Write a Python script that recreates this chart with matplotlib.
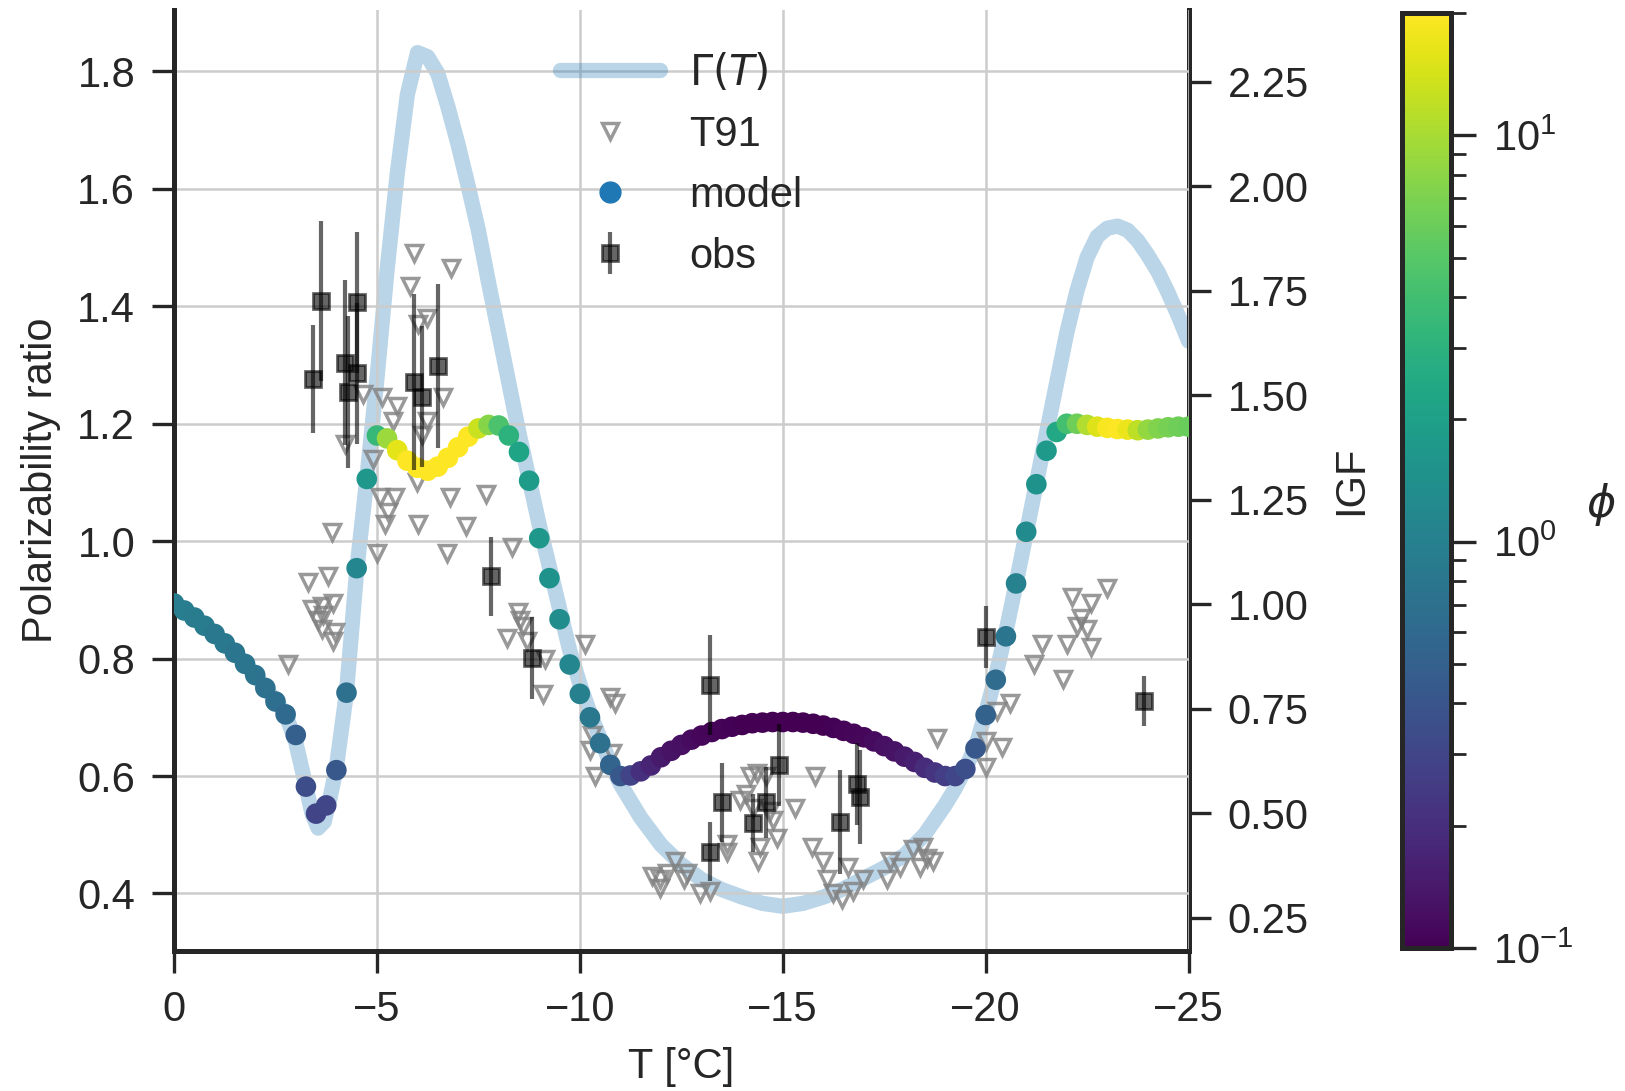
import numpy as np
import matplotlib
matplotlib.use("Agg")
import matplotlib.pyplot as plt
from matplotlib.colors import LogNorm
from matplotlib.lines import Line2D

# --- Gamma(T) curve (right axis, IGF) ---
GAMMA_T = [0.0, -0.5, -1.0, -1.5, -2.0, -2.5, -2.75, -3.0, -3.25, -3.4, -3.55, -3.7,
           -3.85, -4.0, -4.25, -4.5, -4.75, -5.0, -5.25, -5.5, -5.75, -6.0, -6.25, -6.5,
           -6.75, -7.0, -7.25, -7.5, -7.75, -8.0, -8.25, -8.5, -8.75, -9.0, -9.25, -9.5,
           -9.75, -10.0, -10.25, -10.5, -10.75, -11.0, -11.5, -12.0, -12.5, -13.0, -13.5,
           -14.0, -14.5, -15.0, -15.5, -16.0, -16.5, -17.0, -17.5, -18.0, -18.5, -19.0,
           -19.25, -19.5, -19.75, -20.0, -20.25, -20.5, -20.75, -21.0, -21.25, -21.5,
           -21.75, -22.0, -22.25, -22.5, -22.75, -23.0, -23.25, -23.5, -23.75, -24.0,
           -24.25, -24.5, -24.75, -25.0]
GAMMA_IGF = [1.003, 0.969, 0.930, 0.885, 0.832, 0.769, 0.738, 0.670, 0.565, 0.500, 0.465, 0.480,
             0.540, 0.610, 0.790, 1.080, 1.300, 1.540, 1.800, 2.030, 2.220, 2.320, 2.310, 2.270,
             2.190, 2.100, 2.000, 1.895, 1.770, 1.650, 1.530, 1.410, 1.300, 1.190, 1.090, 0.990,
             0.890, 0.810, 0.740, 0.680, 0.620, 0.570, 0.490, 0.425, 0.378, 0.342, 0.318,
             0.300, 0.285, 0.278, 0.285, 0.300, 0.320, 0.345, 0.370, 0.400, 0.450, 0.520,
             0.560, 0.607, 0.660, 0.740, 0.830, 0.935, 1.050, 1.170, 1.290, 1.410,
             1.530, 1.650, 1.750, 1.830, 1.880, 1.900, 1.905, 1.895, 1.870, 1.835,
             1.795, 1.745, 1.690, 1.630]

# --- model (left axis), coloured by phi ---
MODEL_T = [0.0, -0.25, -0.5, -0.75, -1.0, -1.25, -1.5, -1.75, -2.0, -2.25,
           -2.5, -2.75, -3.0, -3.25, -3.5, -3.75, -4.0, -4.25, -4.5, -4.75,
           -5.0, -5.25, -5.5, -5.75, -6.0, -6.25, -6.5, -6.75, -7.0, -7.25,
           -7.5, -7.75, -8.0, -8.25, -8.5, -8.75, -9.0, -9.25, -9.5, -9.75,
           -10.0, -10.25, -10.5, -10.75, -11.0, -11.25, -11.5, -11.75, -12.0, -12.25,
           -12.5, -12.75, -13.0, -13.25, -13.5, -13.75, -14.0, -14.25, -14.5, -14.75,
           -15.0, -15.25, -15.5, -15.75, -16.0, -16.25, -16.5, -16.75, -17.0, -17.25,
           -17.5, -17.75, -18.0, -18.25, -18.5, -18.75, -19.0, -19.25, -19.5, -19.75,
           -20.0, -20.25, -20.5, -20.75, -21.0, -21.25, -21.5, -21.75, -22.0, -22.25,
           -22.5, -22.75, -23.0, -23.25, -23.5, -23.75, -24.0, -24.25, -24.5, -24.75,
           -25.0]
MODEL_RATIO = [0.894, 0.882, 0.870, 0.856, 0.842, 0.826, 0.810, 0.791, 0.772, 0.750,
               0.727, 0.705, 0.670, 0.582, 0.536, 0.550, 0.610, 0.742, 0.954, 1.106,
               1.180, 1.175, 1.155, 1.137, 1.125, 1.120, 1.127, 1.142, 1.160, 1.178,
               1.192, 1.198, 1.197, 1.180, 1.152, 1.103, 1.005, 0.937, 0.867, 0.790,
               0.740, 0.700, 0.656, 0.619, 0.600, 0.601, 0.608, 0.618, 0.632, 0.643,
               0.653, 0.662, 0.669, 0.675, 0.680, 0.684, 0.687, 0.690, 0.691, 0.692,
               0.692, 0.692, 0.691, 0.689, 0.686, 0.682, 0.677, 0.672, 0.666, 0.659,
               0.651, 0.642, 0.633, 0.624, 0.614, 0.606, 0.600, 0.600, 0.612, 0.647,
               0.704, 0.764, 0.838, 0.928, 1.016, 1.097, 1.154, 1.186, 1.200, 1.200,
               1.198, 1.195, 1.193, 1.191, 1.190, 1.189, 1.190, 1.192, 1.194, 1.195,
               1.195]
MODEL_PHI = [0.93, 0.93, 0.88, 0.88, 0.83, 0.83, 0.79, 0.79, 0.75, 0.71,
             0.67, 0.61, 0.49, 0.34, 0.29, 0.30, 0.42, 0.71, 1.14, 1.66,
             3.5, 9.0, 16.0, 20.0, 20.0, 20.0, 20.0, 20.0, 20.0, 20.0,
             13.0, 7.7, 4.5, 3.0, 2.2, 1.84, 1.66, 1.5, 1.35, 1.14,
             0.98, 0.83, 0.71, 0.55, 0.42, 0.29, 0.21, 0.17, 0.145, 0.13,
             0.124, 0.117, 0.11, 0.107, 0.105, 0.103, 0.102, 0.101, 0.1, 0.1,
             0.1, 0.1, 0.1, 0.101, 0.102, 0.103, 0.105, 0.107, 0.11, 0.117,
             0.124, 0.13, 0.145, 0.16, 0.19, 0.22, 0.26, 0.30, 0.36, 0.42,
             0.52, 0.64, 0.79, 1.03, 1.27, 1.5, 1.75, 2.4, 4.1, 6.2,
             10.6, 15.0, 19.0, 20.0, 17.0, 11.8, 8.5, 7.3, 6.6, 6.2,
             5.9]

# --- T91 (left axis) ---
T91_T = [-5.91, -6.82, -5.81, -6.23, -6.0, -4.66, -5.12, -5.49, -5.39, -6.63,
         -6.23, -6.1, -4.21, -4.9, -5.98, -5.08, -5.44, -6.8, -7.7, -5.27,
         -5.2, -6.0, -7.2, -3.89, -4.99, -6.72, -8.33,
         -3.3, -3.79, -3.4, -3.64, -3.92, -3.55, -3.68, -3.64, -3.96, -3.92, -2.8,
         -8.47, -8.53, -8.2, -8.6, -8.69, -9.14, -9.1, -10.13, -10.74, -10.87,
         -10.3, -10.24, -10.37, -10.79,
         -11.78, -11.98, -12.15, -12.35, -12.64, -12.56, -11.98, -12.96, -13.2, -13.63,
         -13.63, -14.19, -14.36, -14.6, -14.1, -14.27, -13.95, -14.68, -14.77, -14.85,
         -14.43, -14.39, -15.3, -15.79, -18.8, -15.71, -16.0, -16.09, -16.24, -16.46,
         -16.6, -16.73, -16.98, -17.57, -17.64, -17.89, -18.2, -18.46, -18.38, -18.7,
         -18.55,
         -23.0, -22.13, -22.6, -22.25, -22.5, -22.0, -22.6, -21.4, -21.2, -21.9,
         -20.6, -20.28, -20.4, -20.0, -20.0, -22.35]
T91_RATIO = [1.49, 1.465, 1.435, 1.38, 1.37, 1.25, 1.245, 1.23, 1.205, 1.245,
             1.205, 1.18, 1.165, 1.14, 1.10, 1.075, 1.075, 1.075, 1.08, 1.05,
             1.03, 1.03, 1.025, 1.015, 0.98, 0.98, 0.99,
             0.93, 0.94, 0.885, 0.89, 0.895, 0.865, 0.875, 0.85, 0.845, 0.83, 0.79,
             0.88, 0.865, 0.835, 0.855, 0.83, 0.80, 0.74, 0.825, 0.735, 0.725,
             0.67, 0.645, 0.60, 0.64,
             0.43, 0.425, 0.435, 0.455, 0.435, 0.425, 0.41, 0.40, 0.405, 0.485,
             0.47, 0.60, 0.605, 0.60, 0.57, 0.545, 0.56, 0.54, 0.525, 0.495,
             0.48, 0.455, 0.545, 0.60, 0.665, 0.48, 0.455, 0.425, 0.40, 0.39,
             0.445, 0.405, 0.425, 0.425, 0.455, 0.445, 0.475, 0.48, 0.445, 0.455,
             0.46,
             0.92, 0.905, 0.895, 0.855, 0.85, 0.825, 0.82, 0.825, 0.79, 0.765,
             0.725, 0.71, 0.65, 0.66, 0.615, 0.87]

# --- observations with error bars (left axis) ---
OBS_T = [-3.42, -3.63, -4.21, -4.29, -4.50, -4.51, -5.91, -6.10, -6.50, -7.81,
         -8.82, -13.2, -13.5, -13.2, -14.27, -14.6, -14.9, -16.4, -16.83, -16.9,
         -20.0, -23.9]
OBS_RATIO = [1.277, 1.409, 1.304, 1.254, 1.286, 1.407, 1.271, 1.246, 1.298, 0.940,
             0.801, 0.755, 0.555, 0.471, 0.520, 0.555, 0.619, 0.522, 0.587, 0.564,
             0.837, 0.728]
OBS_ERR = [0.092, 0.136, 0.14, 0.13, 0.12, 0.12, 0.15, 0.12, 0.14, 0.067,
           0.07, 0.085, 0.067, 0.05, 0.05, 0.06, 0.07, 0.088, 0.07, 0.08,
           0.053, 0.042]

INK = "#262626"
FS = 30


def style_axis(ax) -> None:
    ax.tick_params(direction="out", length=16, width=2.4, colors=INK,
                   labelsize=FS, pad=12)
    for sp in ax.spines.values():
        sp.set_linewidth(3.6)
        sp.set_color(INK)


def main() -> None:
    plt.rcParams["font.family"] = ["Liberation Sans", "DejaVu Sans"]
    plt.rcParams["mathtext.fontset"] = "dejavusans"
    plt.rcParams["text.color"] = INK
    plt.rcParams["axes.labelcolor"] = INK

    fig = plt.figure(figsize=(16.25, 10.91), dpi=100)
    ax = fig.add_axes([0.1071, 0.1283, 0.6243, 0.8622])
    ax2 = ax.twinx()
    cax = fig.add_axes([0.8628, 0.131, 0.0302, 0.857])

    # IGF curve underneath
    gamma_line, = ax2.plot(GAMMA_T, GAMMA_IGF, color="tab:blue", alpha=0.3,
                           lw=11, solid_capstyle="round", label=r"$\Gamma(T)$")
    ax.set_zorder(ax2.get_zorder() + 1)
    ax.patch.set_visible(False)

    t91, = ax.plot(T91_T, T91_RATIO, ls="none", marker="v", ms=12,
                   mfc="none", mec="0.5", mew=2.5, alpha=0.8, label="T91")
    sc = ax.scatter(MODEL_T, MODEL_RATIO, c=MODEL_PHI, cmap="viridis",
                    norm=LogNorm(vmin=0.1, vmax=20), s=220, linewidths=0,
                    zorder=3)
    obs = ax.errorbar(OBS_T, OBS_RATIO, yerr=OBS_ERR, fmt="s", color="k",
                      ms=12, mew=2, elinewidth=3, alpha=0.6, capsize=0,
                      zorder=4, label="obs")
    model_proxy = Line2D([], [], ls="none", marker="o", ms=15,
                         color="tab:blue", label="model")

    ax.set_xlim(0, -25)
    ax.set_ylim(0.302, 1.904)
    ax.set_yticks([0.4, 0.6, 0.8, 1.0, 1.2, 1.4, 1.6, 1.8])
    ax.set_xticks([0, -5, -10, -15, -20, -25])
    ax.grid(True, color="#cccccc", lw=1.8)
    ax.set_axisbelow(True)
    ax2.set_ylim(0.171, 2.421)
    ax2.set_yticks([0.25, 0.5, 0.75, 1.0, 1.25, 1.5, 1.75, 2.0, 2.25])
    ax2.set_yticklabels([f"{v:.2f}" for v in ax2.get_yticks()])

    style_axis(ax)
    style_axis(ax2)
    ax.spines["top"].set_visible(False)
    ax.spines["right"].set_visible(False)
    for side in ("top", "left", "bottom"):
        ax2.spines[side].set_visible(False)

    ax.set_xlabel("T [°C]", fontsize=FS, labelpad=12)
    ax.set_ylabel("Polarizability ratio", fontsize=FS, labelpad=12)
    ax2.set_ylabel("IGF", fontsize=FS, labelpad=16)

    ax.legend([gamma_line, t91, model_proxy, obs],
              [r"$\Gamma(T)$", "T91", "model", "obs"],
              loc="upper center", frameon=False, fontsize=FS,
              handlelength=2.4, handletextpad=0.7, labelspacing=0.5,
              borderaxespad=0.6)

    cbar = fig.colorbar(sc, cax=cax)
    cbar.outline.set_linewidth(3.6)
    cbar.outline.set_edgecolor(INK)
    cax.tick_params(which="major", length=18, width=2.4, labelsize=FS,
                    pad=12, colors=INK)
    cax.tick_params(which="minor", length=11, width=2.0, colors=INK)
    cbar.set_label(r"$\phi$", rotation=0, fontsize=FS + 2, labelpad=20)

    fig.savefig("out.png", dpi=100, facecolor="white")


if __name__ == "__main__":
    main()
